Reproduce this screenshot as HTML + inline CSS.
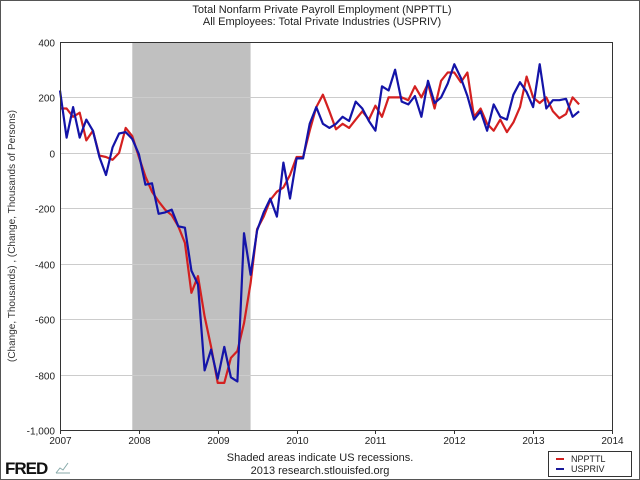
<!DOCTYPE html>
<html><head><meta charset="utf-8"><style>
body{margin:0;background:#fff;}
svg{display:block;font-family:"Liberation Sans",sans-serif;}
</style></head><body>
<svg id="chart" width="640" height="480">
<rect x="0.5" y="0.5" width="639" height="479" fill="#fff" stroke="#555"/>
<text x="322" y="13" font-size="11" text-anchor="middle" fill="#222">Total Nonfarm Private Payroll Employment (NPPTTL)</text>
<text x="322" y="25" font-size="11" text-anchor="middle" fill="#222">All Employees: Total Private Industries (USPRIV)</text>
<text transform="translate(15,236) rotate(-90)" font-size="10" text-anchor="middle" fill="#333">(Change, Thousands) , (Change, Thousands of Persons)</text>
<g id="plot"></g>
<text x="320" y="461" font-size="11" text-anchor="middle" fill="#222">Shaded areas indicate US recessions.</text>
<text x="320" y="474" font-size="11" text-anchor="middle" fill="#222">2013 research.stlouisfed.org</text>
<text x="5" y="474" font-size="17" font-weight="bold" fill="#111" letter-spacing="-1">FRED</text>
<path d="M56 473 L60 468 L63 470 L68 463 M56 473 L70 473" stroke="#8aa" fill="none"/>
<g>
<rect x="548.5" y="451.5" width="83" height="25" fill="#fff" stroke="#333"/>
<line x1="556" y1="459" x2="564" y2="459" stroke="#d02020" stroke-width="2"/>
<text x="571" y="462" font-size="9" fill="#222">NPPTTL</text>
<line x1="556" y1="469" x2="564" y2="469" stroke="#1a1a99" stroke-width="2"/>
<text x="571" y="472" font-size="9" fill="#222">USPRIV</text>
</g>
</svg>
<script>
const yTicks=[400,200,0,-200,-400,-600,-800,-1000];
const yTickLabels=["400","200","0","-200","-400","-600","-800","-1,000"];
const xYears=[2007,2008,2009,2010,2011,2012,2013,2014];
const recessionStart=2007+11/12, recessionEnd=2009+5/12;
const npttl=[160,160,130,145,45,80,-10,-15,-25,0,90,60,
-15,-85,-140,-175,-205,-225,-265,-325,-505,-445,-590,-700,
-830,-830,-740,-715,-615,-470,-275,-230,-170,-140,-125,-80,
-15,-15,80,165,210,150,85,105,90,120,150,120,
170,130,200,200,200,190,240,200,250,160,260,290,
290,255,290,130,160,105,80,120,75,110,165,275,
200,180,200,150,125,140,200,175];
const uspriv=[225,55,165,55,120,80,-15,-80,20,70,75,50,
-5,-115,-110,-220,-215,-205,-265,-270,-425,-475,-785,-710,
-815,-700,-810,-825,-290,-440,-280,-215,-165,-230,-35,-165,
-20,-20,105,165,105,90,105,130,115,185,160,115,
80,240,225,300,185,175,205,130,260,180,200,250,
320,270,205,120,150,80,175,130,120,210,255,220,
165,320,160,190,190,195,130,150];
const L=60,R=612,T=42,B=430;
const xS=t=>L+(t-2007)/(2014-2007)*(R-L);
const yS=v=>T+(400-v)/1400*(B-T);
const g=document.getElementById('plot');
const NS='http://www.w3.org/2000/svg';
function mk(tag,attrs){const e=document.createElementNS(NS,tag);for(const k in attrs)e.setAttribute(k,attrs[k]);g.appendChild(e);return e;}
let e=mk('rect',{x:xS(recessionStart),y:T,width:xS(recessionEnd)-xS(recessionStart),height:B-T,fill:'#c0c0c0'});


yTicks.forEach((v,i)=>{
 const y=Math.round(yS(v))+0.5;
 let l=mk('line',{x1:L,x2:R,y1:y,y2:y,stroke:'#ccc'});
 
 
 let t=mk('text',{x:L-5,y:y+4,'font-size':10,'text-anchor':'end',fill:'#222'});
 t.textContent=yTickLabels[i];
 
 
});
xYears.forEach(yr=>{
 const x=Math.round(xS(yr))+0.5;
 let l=mk('line',{x1:x,x2:x,y1:B,y2:B+4,stroke:'#333'});
 
 
 let t=mk('text',{x:x,y:B+14,'font-size':10,'text-anchor':'middle',fill:'#222'});
 t.textContent=yr;
 
 
});
function line(arr,color,name){
 const pts=arr.map((v,i)=>xS(2007+i/12).toFixed(1)+','+yS(v).toFixed(1)).join(' ');
 let p=mk('polyline',{points:pts,fill:'none',stroke:color,'stroke-width':2.2,'stroke-linejoin':'round'});
 
 
}
line(npttl,'#d42020','series-npttl');
line(uspriv,'#1414a8','series-uspriv');
let fr=mk('rect',{x:L+0.5,y:T+0.5,width:R-L,height:B-T,fill:'none',stroke:'#333'});


</script>
</body></html>
